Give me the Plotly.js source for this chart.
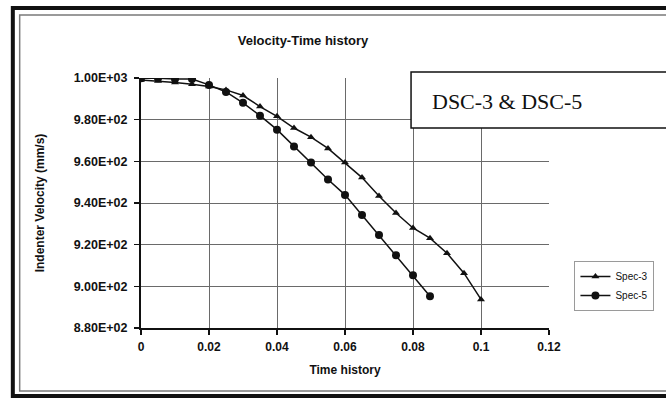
<!DOCTYPE html>
<html>
<head>
<meta charset="utf-8">
<script src="https://cdn.plot.ly/plotly-3.0.1.min.js"></script>
<style>
  html, body { margin: 0; padding: 0; background: #ffffff; }
  #chart { width: 666px; height: 398px; }
</style>
</head>
<body>
<div id="chart"></div>
<script>
// Time samples (s)
const timeSpec3 = [0, 0.005, 0.01, 0.015, 0.02, 0.025, 0.03, 0.035, 0.04, 0.045, 0.05,
                   0.055, 0.06, 0.065, 0.07, 0.075, 0.08, 0.085, 0.09, 0.095, 0.1];
const timeSpec5 = [0, 0.005, 0.01, 0.015, 0.02, 0.025, 0.03, 0.035, 0.04, 0.045, 0.05,
                   0.055, 0.06, 0.065, 0.07, 0.075, 0.08, 0.085];

// Indenter velocity (mm/s)
const velSpec3 = [999.0, 998.6, 997.9, 997.0, 995.9, 994.3, 991.6, 986.3, 981.6, 976.0, 971.6,
                  966.2, 959.4, 952.2, 943.4, 935.2, 928.0, 923.1, 915.9, 906.3, 893.7];
const velSpec5 = [999.9, 999.9, 999.5, 999.5, 996.7, 993.3, 988.1, 981.9, 975.2, 967.1, 959.5,
                  951.3, 943.9, 934.2, 924.6, 914.9, 905.3, 895.2];

// Axis ticks
const xTickVals = [0, 0.02, 0.04, 0.06, 0.08, 0.1, 0.12];
const xTickText = ["0", "0.02", "0.04", "0.06", "0.08", "0.1", "0.12"];
const yTickVals = [880, 900, 920, 940, 960, 980, 1000];
const yTickText = ["8.80E+02", "9.00E+02", "9.20E+02", "9.40E+02", "9.60E+02", "9.80E+02", "1.00E+03"];

const seriesNames = ["Spec-3", "Spec-5"];
const chartTitle = "Velocity-Time history";
const xTitle = "Time history";
const yTitle = "Indenter Velocity (mm/s)";
const boxLabel = "DSC-3 & DSC-5";

// Plot area in page pixels, used to place the frame and the label box
const W = 666, H = 398;
const plotL = 141, plotR = 558, plotT = 78, plotB = 328;
const px = x => (x - plotL) / (plotR - plotL);
const py = y => (plotB - y) / (plotB - plotT);

const sans = "Liberation Sans, Arial, sans-serif";

const traces = [
  {
    x: timeSpec3, y: velSpec3, name: seriesNames[0],
    type: "scatter", mode: "lines+markers",
    line: { color: "#111111", width: 1.5 },
    marker: { symbol: "triangle-up", size: 7, color: "#111111" }
  },
  {
    x: timeSpec5, y: velSpec5, name: seriesNames[1],
    type: "scatter", mode: "lines+markers",
    line: { color: "#111111", width: 1.5 },
    marker: { symbol: "circle", size: 8, color: "#111111" }
  }
];

const layout = {
  width: W, height: H,
  margin: { l: plotL, r: W - plotR, t: plotT, b: H - plotB, pad: 0 },
  paper_bgcolor: "#ffffff",
  plot_bgcolor: "#ffffff",
  showlegend: true,
  title: {
    text: chartTitle,
    font: { family: sans, size: 13, weight: "bold", color: "#111111" },
    xref: "container", yref: "container",
    x: 303 / W, y: 1 - 40 / H, xanchor: "center", yanchor: "middle"
  },
  xaxis: {
    range: [0, 0.12],
    tickvals: xTickVals, ticktext: xTickText,
    showgrid: true, gridcolor: "#6a6a6a", gridwidth: 1,
    zeroline: false,
    showline: true, linecolor: "#111111", linewidth: 2,
    ticks: "outside", ticklen: 5, tickwidth: 1.5, tickcolor: "#111111",
    ticklabelstandoff: 2,
    tickfont: { family: sans, size: 12, weight: "bold", color: "#111111" },
    title: {
      text: xTitle, standoff: 12,
      font: { family: sans, size: 12, weight: "bold", color: "#111111" }
    }
  },
  yaxis: {
    range: [880, 1000],
    tickvals: yTickVals, ticktext: yTickText,
    showgrid: true, gridcolor: "#6a6a6a", gridwidth: 1,
    zeroline: false,
    showline: true, linecolor: "#111111", linewidth: 2,
    ticks: "outside", ticklen: 5, tickwidth: 1.5, tickcolor: "#111111",
    ticklabelstandoff: 4,
    tickfont: { family: sans, size: 12.5, weight: "bold", color: "#111111" },
    title: {
      text: yTitle, standoff: 26,
      font: { family: sans, size: 12, weight: "bold", color: "#111111" }
    }
  },
  legend: {
    x: px(584), y: py(261), xanchor: "left", yanchor: "top",
    bgcolor: "#ffffff", bordercolor: "#9a9a9a", borderwidth: 1,
    font: { family: sans, size: 10, color: "#111111" },
    itemwidth: 30, tracegroupgap: 0
  },
  shapes: [
    // outer heavy frame
    { type: "rect", xref: "paper", yref: "paper", layer: "above",
      x0: px(10), x1: px(680), y0: py(396), y1: py(8),
      line: { color: "#111111", width: 4 } },
    // inner thin frame
    { type: "rect", xref: "paper", yref: "paper", layer: "above",
      x0: px(17), x1: px(680), y0: py(391), y1: py(15),
      line: { color: "#7a7a7a", width: 1.5 } },
    // label box
    { type: "rect", xref: "paper", yref: "paper", layer: "above",
      x0: px(417), x1: px(680), y0: py(128), y1: py(72),
      fillcolor: "#ffffff", line: { color: "#111111", width: 1.5 } }
  ],
  annotations: [
    { text: boxLabel, xref: "paper", yref: "paper", showarrow: false,
      x: px(436), y: py(101), xanchor: "left", yanchor: "middle",
      font: { family: "Liberation Serif, Times New Roman, serif", size: 22, color: "#111111" } }
  ]
};

Plotly.newPlot("chart", traces, layout, { displayModeBar: false, staticPlot: true });
</script>
</body>
</html>
